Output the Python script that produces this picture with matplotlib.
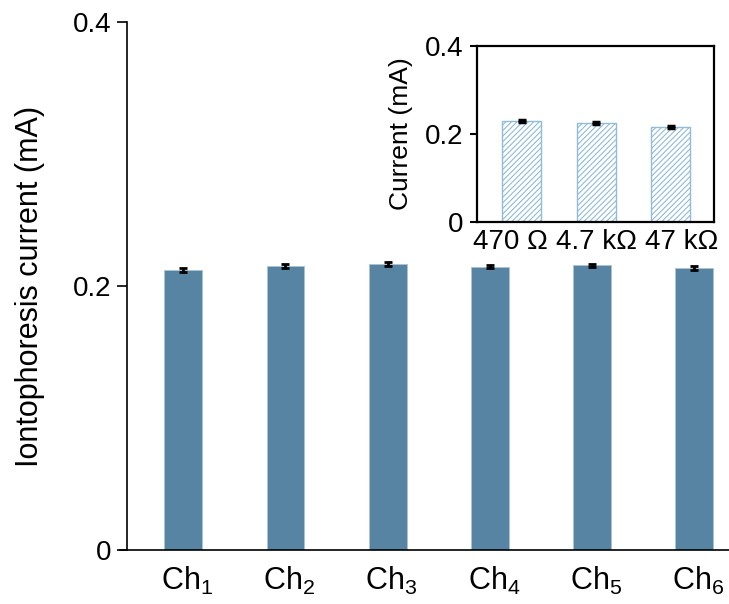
import matplotlib
matplotlib.use("Agg")
import matplotlib.pyplot as plt
import matplotlib.transforms as mtransforms
import numpy as np

plt.rcParams['font.family'] = ['Liberation Sans', 'DejaVu Sans']
plt.rcParams['mathtext.fontset'] = 'custom'
plt.rcParams['mathtext.rm'] = 'Liberation Sans'
plt.rcParams['mathtext.default'] = 'regular'
plt.rcParams['hatch.linewidth'] = 0.8

channels = ["Ch$_1$", "Ch$_2$", "Ch$_3$", "Ch$_4$", "Ch$_5$", "Ch$_6$"]
channel_current = [0.2121, 0.2152, 0.2167, 0.2146, 0.2157, 0.2136]
channel_err = [0.0012, 0.0012, 0.0012, 0.0012, 0.0012, 0.0012]

loads = ["470 Ω", "4.7 kΩ", "47 kΩ"]
load_current = [0.2295, 0.2257, 0.2159]
load_err = [0.002, 0.002, 0.002]

main_ticks = [0, 0.2, 0.4]
main_ticklabels = ["0", "0.2", "0.4"]

fig = plt.figure(figsize=(7.29, 6.04), dpi=100)
ax = fig.add_axes([0.1742, 0.0894, 0.83, 0.8742])
x = np.arange(len(channels))
ax.bar(x, channel_current, width=0.37, color='#5784a3', edgecolor='#a9c4d6', linewidth=0.6,
       yerr=channel_err, error_kw=dict(ecolor='black', elinewidth=2, capsize=3, capthick=2))
ax.set_xlim(-0.55, 5.37)
ax.set_ylim(0, 0.4)
ax.set_yticks(main_ticks)
ax.set_yticklabels(main_ticklabels)
ax.set_xticks(x)
ax.set_xticklabels(channels)
ax.tick_params(axis='x', length=0, labelsize=22, pad=11)
ax.tick_params(axis='y', direction='out', length=7, width=1.2, labelsize=20, pad=4)
for lbl in ax.get_xticklabels():
    lbl.set_transform(lbl.get_transform() + mtransforms.ScaledTranslation(4/100, 0, fig.dpi_scale_trans))
ax.spines['top'].set_visible(False)
ax.spines['right'].set_visible(False)
ax.spines['left'].set_linewidth(1.2)
ax.spines['bottom'].set_linewidth(1.2)
ax.spines['bottom'].set_bounds(-0.62, 5.37)
ax.set_ylabel("Iontophoresis current (mA)", fontsize=22, labelpad=20)

ins = fig.add_axes([0.6543, 0.6325, 0.3251, 0.2914])
xi = np.arange(len(loads))
ins.bar(xi, load_current, width=0.52, color='white', edgecolor='#8fbcd9', hatch='//////',
        linewidth=1.0,
        yerr=load_err, error_kw=dict(ecolor='black', elinewidth=2.5, capsize=3, capthick=2.5))
ins.set_xlim(-0.6, 2.58)
ins.set_ylim(0, 0.4)
ins.set_yticks(main_ticks)
ins.set_yticklabels(main_ticklabels)
ins.set_xticks(xi)
ins.set_xticklabels(loads)
ins.tick_params(axis='x', length=0, labelsize=20, pad=5)
ins.tick_params(axis='y', direction='out', length=5, width=1.5, labelsize=20, pad=5)
offsets = [-11, 0, 11]
for lbl, dx in zip(ins.get_xticklabels(), offsets):
    lbl.set_transform(lbl.get_transform() + mtransforms.ScaledTranslation(dx/100, 0, fig.dpi_scale_trans))
for s in ins.spines.values():
    s.set_linewidth(1.6)
ins.set_ylabel("Current (mA)", fontsize=19, labelpad=8)

fig.savefig("out.png", dpi=100)
